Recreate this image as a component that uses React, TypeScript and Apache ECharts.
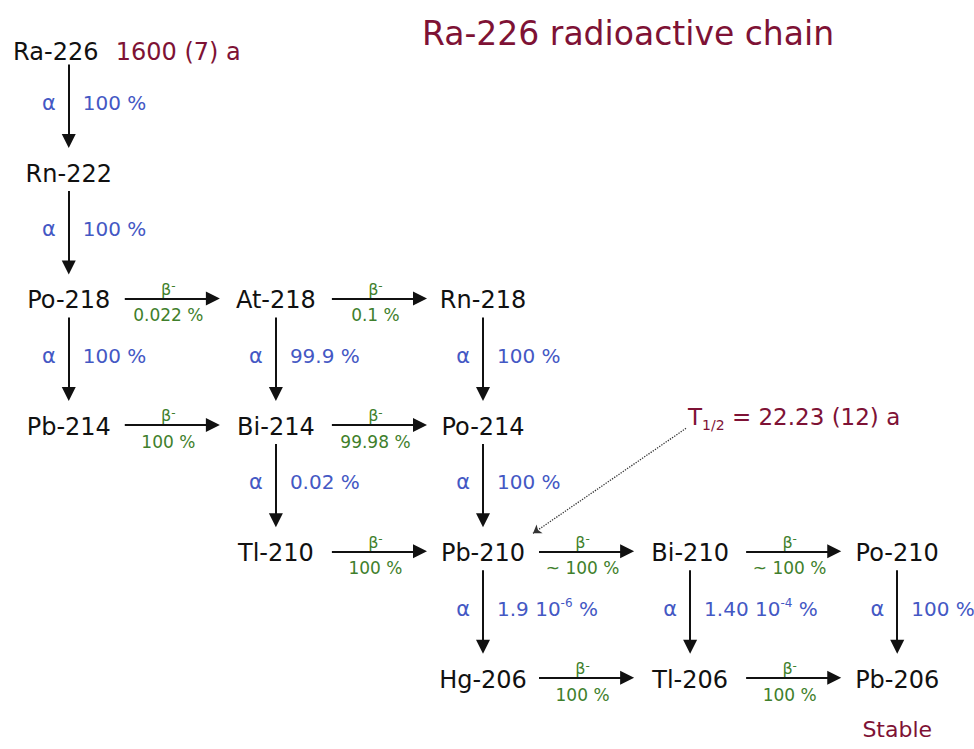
import React, { useEffect, useRef } from "react";
import * as echarts from "echarts";

// ---------------- data ----------------
const TITLE = "Ra-226 radioactive chain";

const nuclides = [
  "Ra-226", "Rn-222", "Po-218", "At-218", "Rn-218",
  "Pb-214", "Bi-214", "Po-214", "Tl-210", "Pb-210",
  "Bi-210", "Po-210", "Hg-206", "Tl-206", "Pb-206",
];
const atomicNumbers = [88, 86, 84, 85, 86, 82, 83, 84, 81, 82, 83, 84, 80, 81, 82];
const massNumbers = [226, 222, 218, 218, 218, 214, 214, 214, 210, 210, 210, 210, 206, 206, 206];

const decayParents = [
  "Ra-226", "Rn-222", "Po-218", "Po-218", "At-218", "At-218", "Rn-218",
  "Pb-214", "Bi-214", "Bi-214", "Po-214", "Tl-210", "Pb-210", "Pb-210",
  "Bi-210", "Bi-210", "Po-210", "Hg-206", "Tl-206",
];
const decayModes = [
  "α", "α", "β", "α", "β", "α", "α",
  "β", "β", "α", "α", "β", "β", "α",
  "β", "α", "α", "β", "β",
];
const branchingRatios = [
  "100 %", "100 %", "0.022 %", "100 %", "0.1 %", "99.9 %", "100 %",
  "100 %", "99.98 %", "0.02 %", "100 %", "100 %", "~ 100 %", "1.9 10^-6 %",
  "~ 100 %", "1.40 10^-4 %", "100 %", "100 %", "100 %",
];

const halfLifeNuclides = ["Ra-226", "Pb-210"];
const halfLives = ["1600 (7) a", "22.23 (12) a"];
const stableNuclides = ["Pb-206"];
const stableLabel = "Stable";

// ---------------- layout / style ----------------
const W = 974;
const H = 749;
const X_MIN = -0.25;
const X_MAX = 4.25;
const A_LO = 204;
const A_HI = 227;
const GRID = { left: 17, right: 25, top: 16, bottom: 6 };
const PX_PER_X = (W - GRID.left - GRID.right) / (X_MAX - X_MIN);
const PX_PER_A = (H - GRID.top - GRID.bottom) / (A_HI - A_LO);
const dX = (px: number) => px / PX_PER_X;
const dA = (px: number) => -px / PX_PER_A; // +px = downwards

const FONT = "DejaVu Sans";
const BLACK = "#111111";
const MAROON = "#7e1235";
const BLUE = "#4458c4";
const GREEN = "#3f7f2c";

const toRich = (s: string) => s.replace(/\^(-?\d+)/g, "{sup|$1}");

function position(i: number): [number, number] {
  const Z = atomicNumbers[i];
  const A = massNumbers[i];
  const nAlpha = (massNumbers[0] - A) / 4;
  const nBeta = Z - (atomicNumbers[0] - 2 * nAlpha);
  return [nBeta, A];
}

export default function App() {
  const ref = useRef<HTMLDivElement>(null);

  useEffect(() => {
    if (!ref.current) return;
    const chart = echarts.init(ref.current, undefined, { renderer: "svg" });

    const edges = decayParents.map((p, k) => {
      const i = nuclides.indexOf(p);
      const mode = decayModes[k];
      const Zd = mode === "α" ? atomicNumbers[i] - 2 : atomicNumbers[i] + 1;
      const Ad = mode === "α" ? massNumbers[i] - 4 : massNumbers[i];
      const j = atomicNumbers.findIndex((z, m) => z === Zd && massNumbers[m] === Ad);
      return { from: position(i), to: position(j), mode, ratio: branchingRatios[k] };
    });

    const arrowData = edges.map((e) => {
      const [x0, a0] = e.from;
      const [x1, a1] = e.to;
      if (e.mode === "α") {
        return { coords: [[x0, a0 + dA(17)], [x1, a1 + dA(-33)]] };
      }
      return { coords: [[x0 + dX(56), a0 + dA(-2)], [x1 - dX(63), a1 + dA(-2)]] };
    });

    const modeLabels = edges.map((e) => {
      const [x0, a0] = e.from;
      const [x1, a1] = e.to;
      if (e.mode === "α") {
        return {
          value: [x0, (a0 + a1) / 2],
          label: {
            formatter: "α", align: "right", offset: [-13, -8],
            color: BLUE, fontSize: 21,
          },
        };
      }
      return {
        value: [(x0 + x1) / 2, a0],
        label: {
          formatter: "β{sup|-}", align: "center", offset: [-4, -11],
          color: GREEN, fontSize: 16, lineHeight: 18,
          rich: { sup: { fontSize: 12, verticalAlign: "top", lineHeight: 12, color: GREEN, fontFamily: FONT } },
        },
      };
    });

    const ratioLabels = edges.map((e) => {
      const [x0, a0] = e.from;
      const [x1, a1] = e.to;
      if (e.mode === "α") {
        return {
          value: [x0, (a0 + a1) / 2],
          label: {
            formatter: toRich(e.ratio), align: "left", offset: [14, -8],
            color: BLUE, fontSize: 20, lineHeight: 24,
            rich: { sup: { fontSize: 12, verticalAlign: "top", lineHeight: 12, color: BLUE, fontFamily: FONT } },
          },
        };
      }
      return {
        value: [(x0 + x1) / 2, a0],
        label: {
          formatter: e.ratio, align: "center", offset: [-4, 15],
          color: GREEN, fontSize: 17,
        },
      };
    });

    const nodeData = nuclides.map((n, i) => ({
      value: position(i),
      name: n,
      label: n === halfLifeNuclides[0] ? { offset: [-13, 4] } : { offset: [0, 0] },
    }));

    const hl0 = position(nuclides.indexOf(halfLifeNuclides[0]));
    const hl1 = position(nuclides.indexOf(halfLifeNuclides[1]));
    const annotationData = [
      {
        value: hl0,
        label: {
          formatter: halfLives[0], align: "left", offset: [47, 4],
          color: MAROON, fontSize: 24,
        },
      },
      {
        value: hl1,
        label: {
          formatter: "T{sub|1/2} = " + halfLives[1], align: "left", offset: [205, -136],
          color: MAROON, fontSize: 23, lineHeight: 30,
          rich: { sub: { fontSize: 14, verticalAlign: "bottom", lineHeight: 14, color: MAROON, fontFamily: FONT } },
        },
      },
      ...stableNuclides.map((s) => ({
        value: position(nuclides.indexOf(s)),
        label: {
          formatter: stableLabel, align: "center", offset: [0, 50],
          color: MAROON, fontSize: 22,
        },
      })),
    ];

    const calloutLine = [
      {
        coords: [
          [hl1[0] + dX(203), hl1[1] + dA(-125)],
          [hl1[0] + dX(50), hl1[1] + dA(-20)],
        ],
      },
    ];

    const labelSeriesBase = {
      type: "scatter",
      symbol: "circle",
      symbolSize: 0,
      silent: true,
      itemStyle: { color: "rgba(0,0,0,0)", opacity: 1 },
    };

    chart.setOption({
      animation: false,
      backgroundColor: "#ffffff",
      title: {
        text: TITLE,
        left: 417,
        top: 12,
        textStyle: { fontFamily: FONT, fontSize: 33, fontWeight: "normal", color: MAROON },
      },
      grid: GRID,
      xAxis: { type: "value", min: X_MIN, max: X_MAX, show: false },
      yAxis: { type: "value", min: A_LO, max: A_HI, show: false },
      series: [
        {
          type: "lines",
          coordinateSystem: "cartesian2d",
          clip: false,
          silent: true,
          symbol: ["none", "triangle"],
          symbolSize: 14,
          lineStyle: { color: BLACK, width: 2, opacity: 1, curveness: 0 },
          data: arrowData,
        },
        {
          type: "lines",
          coordinateSystem: "cartesian2d",
          clip: false,
          silent: true,
          symbol: ["none", "arrow"],
          symbolSize: 8,
          lineStyle: { color: "#333333", width: 1.3, type: "dotted", opacity: 1 },
          data: calloutLine,
        },
        {
          ...labelSeriesBase,
          name: "nuclides",
          label: {
            show: true, position: "inside", formatter: "{b}",
            fontFamily: FONT, fontSize: 24, color: BLACK, opacity: 1,
          },
          data: nodeData,
        },
        {
          ...labelSeriesBase,
          name: "modes",
          label: { show: true, position: "inside", fontFamily: FONT, opacity: 1 },
          data: modeLabels,
        },
        {
          ...labelSeriesBase,
          name: "ratios",
          label: { show: true, position: "inside", fontFamily: FONT, opacity: 1 },
          data: ratioLabels,
        },
        {
          ...labelSeriesBase,
          name: "annotations",
          label: { show: true, position: "inside", fontFamily: FONT, opacity: 1 },
          data: annotationData,
        },
      ],
    });

    return () => chart.dispose();
  }, []);

  return (
    <div
      ref={ref}
      style={{ position: "absolute", left: 0, top: 0, width: W, height: H, background: "#fff" }}
    />
  );
}
